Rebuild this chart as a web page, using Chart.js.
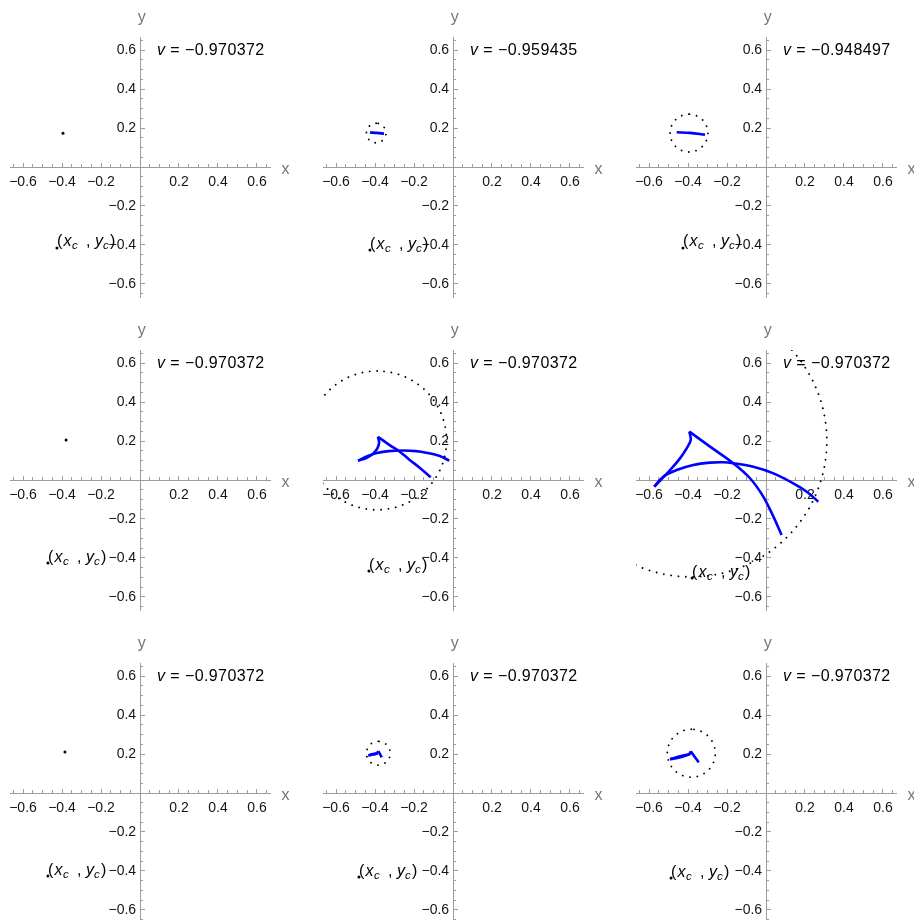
<!DOCTYPE html>
<html><head><meta charset="utf-8">
<script src="https://cdn.jsdelivr.net/npm/chart.js@4.4.0/dist/chart.umd.min.js"></script>
<style>
html,body{margin:0;padding:0;background:#fff;overflow:hidden;}
#wrap{position:relative;width:914px;height:920px;overflow:hidden;background:#fff;}
#wrap canvas{position:absolute;}
</style></head><body><div id="wrap"></div>
<script>
const FONT = '"Liberation Sans", Arial, Helvetica, sans-serif';
const AXIS_COLOR = '#9c9c9c';
const TICK_TEXT = '#141414';
const LABEL_GRAY = '#767676';

// axis range and ticks
const axisMin = -0.6667, axisMax = 0.6667;
const majorTicks = [-0.6, -0.4, -0.2, 0.2, 0.4, 0.6];
const xTickLabels = ['−0.6', '−0.4', '−0.2', '0.2', '0.4', '0.6'];
const yTickLabels = ['−0.6', '−0.4', '−0.2', '0.2', '0.4', '0.6'];
const minorTicks = [-0.65, -0.55, -0.5, -0.45, -0.35, -0.3, -0.25, -0.15, -0.1, -0.05,
                    0.05, 0.1, 0.15, 0.25, 0.3, 0.35, 0.45, 0.5, 0.55, 0.65];

// per-panel values (row-major, 3x3)
const vValues = ['−0.970372', '−0.959435', '−0.948497',
                 '−0.970372', '−0.970372', '−0.970372',
                 '−0.970372', '−0.970372', '−0.970372'];
const vLabelPos = [0.087, 0.573];
const circleCX = [null, -0.394, -0.395, null, -0.389, -0.385, null, -0.383, -0.383];
const circleCY = [null, 0.174, 0.174, null, 0.203, 0.200, null, 0.204, 0.204];
const circleR  = [0, 0.05, 0.097, 0, 0.356, 0.697, 0, 0.061, 0.123];
const centerDotX = [-0.395, null, null, -0.379, null, null, -0.385, null, null];
const centerDotY = [0.173, null, null, 0.205, null, null, 0.210, null, null];
const xcX = [-0.426, -0.426, -0.426, -0.472, -0.431, -0.379, -0.472, -0.482, -0.487];
const xcY = [-0.415, -0.426, -0.415, -0.426, -0.467, -0.503, -0.426, -0.431, -0.436];

// blue traced curves (arcs between cusps)
const curve2 = [[-0.426, 0.177], [-0.39, 0.175], [-0.354, 0.171]];
const curve3 = [[-0.458, 0.178], [-0.39, 0.175], [-0.313, 0.166]];
const curve5a = [[-0.114, 0.014], [-0.171, 0.063], [-0.222, 0.103], [-0.273, 0.145], [-0.325, 0.179], [-0.385, 0.222]];
const curve5b = [[-0.385, 0.222], [-0.379, 0.192], [-0.388, 0.162], [-0.410, 0.135], [-0.445, 0.113], [-0.487, 0.099]];
const curve5c = [[-0.487, 0.099], [-0.440, 0.122], [-0.390, 0.138], [-0.330, 0.148], [-0.255, 0.151], [-0.190, 0.148], [-0.137, 0.140], [-0.068, 0.123], [-0.019, 0.099]];
const curve6a = [[0.080, -0.282], [0.038, -0.188], [-0.014, -0.085], [-0.082, 0.009], [-0.168, 0.086], [-0.287, 0.171], [-0.393, 0.248]];
const curve6b = [[-0.393, 0.248], [-0.386, 0.205], [-0.407, 0.162], [-0.441, 0.111], [-0.492, 0.051], [-0.573, -0.034]];
const curve6c = [[-0.573, -0.034], [-0.527, 0.017], [-0.458, 0.051], [-0.373, 0.077], [-0.287, 0.089], [-0.219, 0.091], [-0.168, 0.086], [-0.065, 0.068], [0.038, 0.034], [0.140, -0.017], [0.209, -0.060], [0.268, -0.111]];
const curve8a = [[-0.366, 0.183], [-0.374, 0.199], [-0.383, 0.214]];
const curve8b = [[-0.383, 0.214], [-0.392, 0.203], [-0.410, 0.197], [-0.434, 0.193]];
const curve8c = [[-0.434, 0.193], [-0.410, 0.200], [-0.385, 0.203]];
const curve9a = [[-0.345, 0.157], [-0.366, 0.186], [-0.386, 0.214]];
const curve9b = [[-0.386, 0.214], [-0.395, 0.198], [-0.440, 0.183], [-0.492, 0.173]];
const curve9c = [[-0.492, 0.173], [-0.440, 0.188], [-0.388, 0.200]];
const panelCurves = [[], [curve2], [curve3], [], [curve5a, curve5b, curve5c], [curve6a, curve6b, curve6c], [], [curve8a, curve8b, curve8c], [curve9a, curve9b, curve9c]];

const colLeft = [0, 313, 626];
const rowTop = [0, 313, 626];

function toPts(arr) { return arr.map(p => ({x: p[0], y: p[1]})); }
function circlePts(cx, cy, r) {
  const pts = [];
  const n = 240;
  for (let k = 0; k <= n; k++) {
    const t = Math.PI / 2 + 2 * Math.PI * k / n;
    pts.push({x: cx + r * Math.cos(t), y: cy + r * Math.sin(t)});
  }
  return pts;
}

const zeroX = s => { s.height = 0; s.paddingLeft = 0; s.paddingRight = 0; s.paddingTop = 0; s.paddingBottom = 0; };
const zeroY = s => { s.width = 0; s.paddingLeft = 0; s.paddingRight = 0; s.paddingTop = 0; s.paddingBottom = 0; };

const annot = {
  id: 'annot',
  afterDraw(chart, args, opts) {
    const i = opts.i;
    const {ctx, chartArea: ca} = chart;
    const sx = chart.scales.x, sy = chart.scales.y;
    const ox = sx.getPixelForValue(0), oy = sy.getPixelForValue(0);
    ctx.save();
    ctx.textBaseline = 'alphabetic';
    ctx.fillStyle = LABEL_GRAY;
    ctx.font = '16px ' + FONT;
    ctx.textAlign = 'left';
    ctx.fillText('x', ca.right + 11.5, oy + 6.5);
    ctx.textAlign = 'center';
    ctx.fillText('y', ox + 1.7, ca.top - 15.5);
    // v label
    ctx.textAlign = 'left';
    ctx.fillStyle = '#000';
    const px = sx.getPixelForValue(vLabelPos[0]), py = sy.getPixelForValue(vLabelPos[1]);
    ctx.font = 'italic 16px ' + FONT;
    ctx.fillText('v', px, py);
    const vw = ctx.measureText('v').width;
    ctx.font = '16px ' + FONT;
    if ('letterSpacing' in ctx) ctx.letterSpacing = '0.4px';
    ctx.fillText(' = ' + vValues[i], px + vw + 0.5, py);
    if ('letterSpacing' in ctx) ctx.letterSpacing = '0px';
    // (x_c , y_c) label
    const lx = sx.getPixelForValue(xcX[i]), ly = sy.getPixelForValue(xcY[i]) - 1.5;
    const parts = [['(', '16px ', 0, 0], ['x', 'italic 16px ', 6.5, 0], ['c', 'italic 11.5px ', 15, 3],
                   [',', '16px ', 29, 0], ['y', 'italic 16px ', 38, 0], ['c', 'italic 11.5px ', 46, 3], [')', '16px ', 53, 0]];
    for (const p of parts) {
      ctx.font = p[1] + FONT;
      ctx.fillText(p[0], lx + p[2], ly + p[3]);
    }
    ctx.restore();
  }
};

const wrap = document.getElementById('wrap');
for (let i = 0; i < 9; i++) {
  const r = Math.floor(i / 3), c = i % 3;
  const cv = document.createElement('canvas');
  cv.width = 313; cv.height = 313;
  cv.style.left = colLeft[c] + 'px';
  cv.style.top = rowTop[r] + 'px';
  cv.style.width = '313px'; cv.style.height = '313px';
  wrap.appendChild(cv);

  const datasets = [];
  if (circleR[i] > 0) {
    datasets.push({data: circlePts(circleCX[i], circleCY[i], circleR[i]), showLine: true,
      borderColor: '#000', borderWidth: 1.9, borderDash: [0.001, 7.4], borderCapStyle: 'round',
      pointRadius: 0, fill: false, tension: 0});
  }
  for (const arc of panelCurves[i]) {
    datasets.push({data: toPts(arc), showLine: true, borderColor: '#0000ff', borderWidth: 2.6,
      borderCapStyle: 'butt', borderJoinStyle: 'miter', pointRadius: 0, fill: false, tension: 0.35});
  }
  const dots = [{x: xcX[i], y: xcY[i]}];
  if (centerDotX[i] !== null) dots.push({x: centerDotX[i], y: centerDotY[i]});
  datasets.push({data: dots, showLine: false, pointRadius: 1.5, pointBorderWidth: 0,
    pointBackgroundColor: '#000', backgroundColor: '#000'});

  new Chart(cv.getContext('2d'), {
    type: 'scatter',
    data: {datasets},
    plugins: [annot],
    options: {
      responsive: false, animation: false, events: [],
      devicePixelRatio: 1,
      layout: {padding: {left: 10, right: 43, top: 37, bottom: 16}},
      plugins: {legend: {display: false}, tooltip: {enabled: false}, annot: {i: i}},
      scales: {
        x: {type: 'linear', axis: 'x', position: {y: 0}, min: axisMin, max: axisMax, bounds: 'data',
          afterBuildTicks: s => { s.ticks = majorTicks.map(v => ({value: v})); },
          afterFit: zeroX,
          grid: {display: true, drawOnChartArea: false, drawTicks: true, tickLength: -5, tickColor: AXIS_COLOR, tickWidth: 1},
          border: {display: true, color: AXIS_COLOR, width: 1},
          ticks: {autoSkip: false, maxRotation: 0, minRotation: 0, padding: 12, color: TICK_TEXT,
            font: {family: FONT, size: 14}, callback: (v, idx) => xTickLabels[idx]}},
        y: {type: 'linear', axis: 'y', position: {x: 0}, min: axisMin, max: axisMax, bounds: 'data',
          afterBuildTicks: s => { s.ticks = majorTicks.map(v => ({value: v})); },
          afterFit: zeroY,
          grid: {display: true, drawOnChartArea: false, drawTicks: true, tickLength: -5, tickColor: AXIS_COLOR, tickWidth: 1},
          border: {display: true, color: AXIS_COLOR, width: 1},
          ticks: {autoSkip: false, padding: 5, color: TICK_TEXT,
            font: {family: FONT, size: 14}, callback: (v, idx) => yTickLabels[idx] + ' '}},
        xm: {type: 'linear', axis: 'x', position: {y: 0}, min: axisMin, max: axisMax, bounds: 'data',
          afterBuildTicks: s => { s.ticks = minorTicks.map(v => ({value: v})); },
          afterFit: zeroX,
          grid: {display: true, drawOnChartArea: false, drawTicks: true, tickLength: -3, tickColor: AXIS_COLOR, tickWidth: 1},
          border: {display: false},
          ticks: {display: false, autoSkip: false}},
        ym: {type: 'linear', axis: 'y', position: {x: 0}, min: axisMin, max: axisMax, bounds: 'data',
          afterBuildTicks: s => { s.ticks = minorTicks.map(v => ({value: v})); },
          afterFit: zeroY,
          grid: {display: true, drawOnChartArea: false, drawTicks: true, tickLength: -3, tickColor: AXIS_COLOR, tickWidth: 1},
          border: {display: false},
          ticks: {display: false, autoSkip: false}}
      }
    }
  });
}
</script></body></html>
